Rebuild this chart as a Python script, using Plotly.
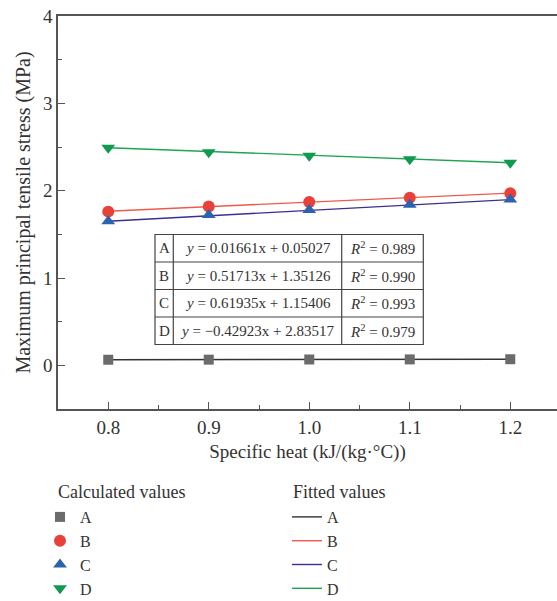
import plotly.graph_objects as go

# ---- data ----
x_vals = [0.8, 0.9, 1.0, 1.1, 1.2]
series_names = ["A", "B", "C", "D"]
calc_A = [0.064, 0.065, 0.067, 0.068, 0.070]
calc_B = [1.76, 1.82, 1.87, 1.92, 1.97]
calc_C = [1.65, 1.72, 1.78, 1.84, 1.90]
calc_D = [2.49, 2.44, 2.40, 2.36, 2.32]
fit_A = [0.0636, 0.0652, 0.0669, 0.0685, 0.0702]
fit_B = [1.765, 1.817, 1.868, 1.920, 1.972]
fit_C = [1.650, 1.712, 1.774, 1.836, 1.898]
fit_D = [2.492, 2.449, 2.406, 2.363, 2.320]
equations = ["<i>y</i> = 0.01661x + 0.05027",
             "<i>y</i> = 0.51713x + 1.35126",
             "<i>y</i> = 0.61935x + 1.15406",
             "<i>y</i> = \u22120.42923x + 2.83517"]
r2_values = ["0.989", "0.990", "0.993", "0.979"]

FONT = "Liberation Serif"
TXT = "#333333"

marker_colors = ["#6b6b6b", "#e8413a", "#2b63b1", "#0e9a4f"]
marker_symbols = ["square", "circle", "triangle-up", "triangle-down"]
marker_sizes = [10, 12, 12, 12]
line_colors = ["#333333", "#ef5a4c", "#3b2f8f", "#1ea552"]

calc = [calc_A, calc_B, calc_C, calc_D]
fits = [fit_A, fit_B, fit_C, fit_D]

fig = go.Figure()
for i, n in enumerate(series_names):
    fig.add_trace(go.Scatter(x=x_vals, y=fits[i], mode="lines", name=n,
                             line=dict(color=line_colors[i], width=1.4),
                             legend="legend2"))
for i, n in enumerate(series_names):
    fig.add_trace(go.Scatter(x=x_vals, y=calc[i], mode="markers", name=n,
                             marker=dict(color=marker_colors[i], symbol=marker_symbols[i],
                                         size=marker_sizes[i], line=dict(width=0)),
                             legend="legend"))

# plot area in pixels
L, R, T, B = 58, 557, 16, 409
W, H = 557, 601


def px(xp):
    return (xp - L) / (R - L)


def py(yp):
    return (B - yp) / (B - T)


# table
tx0, tx1, tx2, tx3 = 155, 173.3, 341.7, 423.3
ty = [234.5, 262, 289.5, 317, 344.5]
LC = "#444444"
shapes = [dict(type="rect", xref="paper", yref="paper", x0=px(tx0), x1=px(tx3),
               y0=py(ty[4]), y1=py(ty[0]), line=dict(color=LC, width=1.2),
               fillcolor="white", layer="above")]
for xv in (tx1, tx2):
    shapes.append(dict(type="line", xref="paper", yref="paper", x0=px(xv), x1=px(xv),
                       y0=py(ty[4]), y1=py(ty[0]), line=dict(color=LC, width=1.2)))
for yv in ty[1:4]:
    shapes.append(dict(type="line", xref="paper", yref="paper", x0=px(tx0), x1=px(tx3),
                       y0=py(yv), y1=py(yv), line=dict(color=LC, width=1.2)))
annotations = []
TF = dict(family=FONT, size=15, color=TXT)
for i in range(4):
    yc = py((ty[i] + ty[i + 1]) / 2)
    annotations.append(dict(xref="paper", yref="paper", x=px((tx0 + tx1) / 2), y=yc,
                            xanchor="center", yanchor="middle", text=series_names[i],
                            showarrow=False, font=TF, borderpad=0))
    annotations.append(dict(xref="paper", yref="paper", x=px((tx1 + tx2) / 2), y=yc,
                            xanchor="center", yanchor="middle", text=equations[i],
                            showarrow=False, font=TF))
    annotations.append(dict(xref="paper", yref="paper", x=px((tx2 + tx3) / 2), y=yc,
                            xanchor="center", yanchor="middle",
                            text="<i>R</i><sup>2</sup> = " + r2_values[i],
                            showarrow=False, font=TF))

# legend headers
LF = dict(family=FONT, size=18, color=TXT)
annotations.append(dict(xref="paper", yref="paper", x=px(56), y=py(492), xanchor="left",
                        yanchor="middle", text="Calculated values", showarrow=False, font=LF))
annotations.append(dict(xref="paper", yref="paper", x=px(291), y=py(492), xanchor="left",
                        yanchor="middle", text="Fitted values", showarrow=False, font=LF))

LIF = dict(family=FONT, size=16, color=TXT)

axis_common = dict(showgrid=False, zeroline=False, showline=True, linecolor="#555555",
                   linewidth=1.5, ticks="inside", ticklen=7, tickwidth=1.2, tickcolor="#555555",
                   tickfont=dict(family=FONT, size=19, color=TXT))

fig.update_layout(
    width=W, height=H,
    margin=dict(l=L, r=W - R, t=T, b=H - B, pad=0, autoexpand=False),
    plot_bgcolor="white", paper_bgcolor="white",
    font=dict(family=FONT, size=18, color=TXT),
    xaxis=dict(range=[0.75, 1.2465], tickvals=x_vals, tickformat=".1f", mirror=True,
               title=dict(text="Specific heat (kJ/(kg\u00b7\u00b0C))", standoff=8,
                          font=dict(family=FONT, size=19, color=TXT)),
               minor=dict(ticks="inside", ticklen=4, dtick=0.05, tickcolor="#555555"),
               **axis_common),
    yaxis=dict(range=[-0.5, 4], tickvals=[0, 1, 2, 3, 4],
               title=dict(text="Maximum principal tensile stress (MPa)", standoff=7,
                          font=dict(family=FONT, size=20, color=TXT)),
               minor=dict(ticks="inside", ticklen=4, dtick=0.5, tickcolor="#555555"),
               **axis_common),
    showlegend=True,
    legend=dict(x=px(40), y=py(500), xanchor="left", yanchor="top",
                font=LIF, bgcolor="rgba(0,0,0,0)", tracegroupgap=0, itemwidth=30),
    legend2=dict(x=px(287), y=py(500), xanchor="left", yanchor="top",
                 font=LIF, bgcolor="rgba(0,0,0,0)", tracegroupgap=0, itemwidth=30),
    shapes=shapes, annotations=annotations,
)

fig.write_html("out.html")
